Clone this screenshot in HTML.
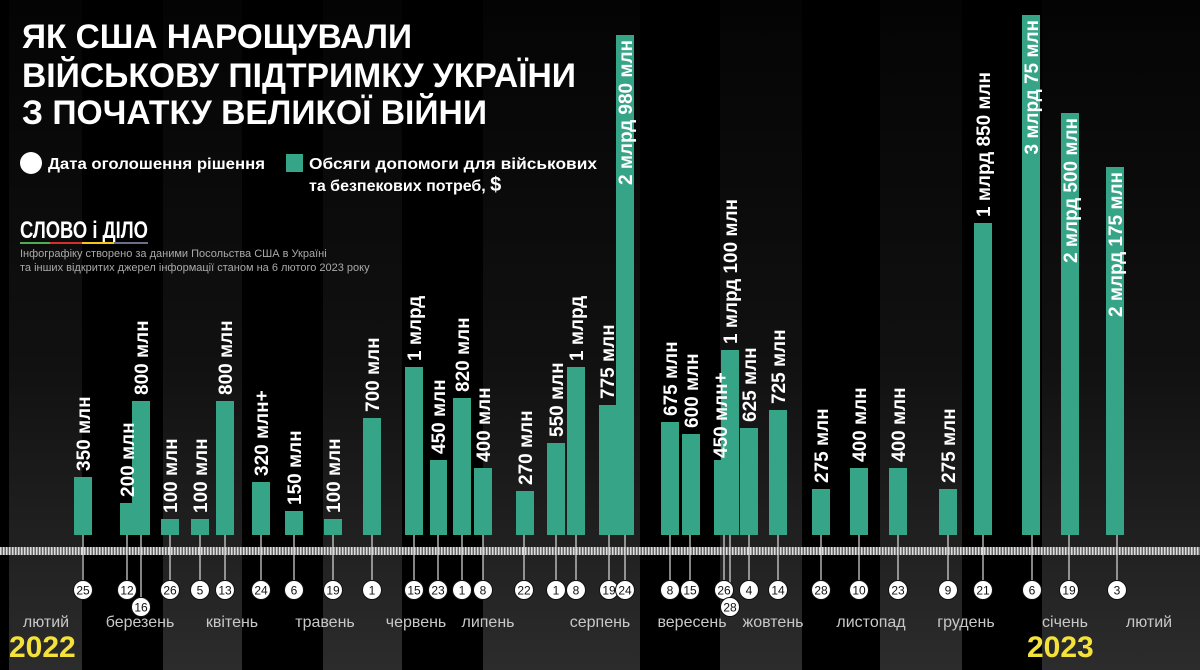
<!DOCTYPE html>
<html><head><meta charset="utf-8"><style>
html,body{margin:0;padding:0;background:#000;}
svg{display:block;}
text{font-family:"Liberation Sans","DejaVu Sans",sans-serif;}
</style></head><body>
<svg width="1200" height="670" viewBox="0 0 1200 670" xmlns="http://www.w3.org/2000/svg">
<defs>
<linearGradient id="g" x1="0" y1="0" x2="0" y2="1">
<stop offset="0" stop-color="#040404"/><stop offset="0.55" stop-color="#111"/><stop offset="1" stop-color="#2c2c2c"/>
</linearGradient>
<pattern id="tk" width="3" height="8" patternUnits="userSpaceOnUse">
<rect width="3" height="8" fill="#666"/><rect width="1.5" height="8" fill="#ddd"/>
</pattern>
</defs>
<rect width="1200" height="670" fill="#000"/>
<g fill="url(#g)">
<rect x="9" y="0" width="73" height="670"/>
<rect x="163" y="0" width="79" height="670"/>
<rect x="323" y="0" width="79" height="670"/>
<rect x="483" y="0" width="157" height="670"/>
<rect x="720" y="0" width="82" height="670"/>
<rect x="880" y="0" width="82" height="670"/>
<rect x="1042" y="0" width="158" height="670"/>
</g>
<rect x="0" y="547" width="1200" height="8" fill="url(#tk)"/>

<g fill="#fff" font-weight="bold">
<text x="22" y="48" font-size="34" textLength="390" lengthAdjust="spacingAndGlyphs">ЯК США НАРОЩУВАЛИ</text>
<text x="22" y="87" font-size="34" textLength="554" lengthAdjust="spacingAndGlyphs">ВІЙСЬКОВУ ПІДТРИМКУ УКРАЇНИ</text>
<text x="22" y="124" font-size="34" textLength="465" lengthAdjust="spacingAndGlyphs">З ПОЧАТКУ ВЕЛИКОЇ ВІЙНИ</text>
</g>
<circle cx="31" cy="163" r="11" fill="#fff"/>
<text x="48" y="169" font-size="16" font-weight="bold" fill="#fff" textLength="217" lengthAdjust="spacingAndGlyphs">Дата оголошення рішення</text>
<rect x="286" y="154" width="17" height="18" fill="#35a487"/>
<text x="309" y="169" font-size="16" font-weight="bold" fill="#fff" textLength="288" lengthAdjust="spacingAndGlyphs">Обсяги допомоги для військових</text>
<text x="309" y="191" font-size="16" font-weight="bold" fill="#fff">та безпекових потреб, <tspan font-size="20">$</tspan></text>
<text x="20" y="238" font-size="24" font-weight="bold" fill="#fff" textLength="128" lengthAdjust="spacingAndGlyphs">СЛОВО і ДІЛО</text>
<rect x="20" y="242" width="30" height="2" fill="#4caf50"/><rect x="50" y="242" width="32" height="2" fill="#d32f2f"/><rect x="82" y="242" width="32" height="2" fill="#f5c518"/><rect x="114" y="242" width="34" height="2" fill="#6b6f8a"/>
<text x="20" y="257" font-size="11" fill="#aaa">Інфографіку створено за даними Посольства США в Україні</text>
<text x="20" y="271" font-size="11" fill="#aaa">та інших відкритих джерел інформації станом на 6 лютого 2023 року</text>

<g fill="#35a487">
<rect x="74" y="477" width="18" height="58"/>
<rect x="120" y="503" width="14" height="32"/>
<rect x="132" y="401" width="18" height="134"/>
<rect x="161" y="519" width="18" height="16"/>
<rect x="191" y="519" width="18" height="16"/>
<rect x="216" y="401" width="18" height="134"/>
<rect x="252" y="482" width="18" height="53"/>
<rect x="285" y="511" width="18" height="24"/>
<rect x="324" y="519" width="18" height="16"/>
<rect x="363" y="418" width="18" height="117"/>
<rect x="405" y="367" width="18" height="168"/>
<rect x="430" y="460" width="17" height="75"/>
<rect x="453" y="398" width="18" height="137"/>
<rect x="474" y="468" width="18" height="67"/>
<rect x="516" y="491" width="18" height="44"/>
<rect x="547" y="443" width="18" height="92"/>
<rect x="567" y="367" width="18" height="168"/>
<rect x="599" y="405" width="17" height="130"/>
<rect x="616" y="35" width="18" height="500"/>
<rect x="661" y="422" width="18" height="113"/>
<rect x="682" y="434" width="18" height="101"/>
<rect x="714" y="460" width="9" height="75"/>
<rect x="721" y="350" width="18" height="185"/>
<rect x="740" y="428" width="18" height="107"/>
<rect x="769" y="410" width="18" height="125"/>
<rect x="812" y="489" width="18" height="46"/>
<rect x="850" y="468" width="18" height="67"/>
<rect x="889" y="468" width="18" height="67"/>
<rect x="939" y="489" width="18" height="46"/>
<rect x="974" y="223" width="18" height="312"/>
<rect x="1022" y="15" width="18" height="520"/>
<rect x="1061" y="113" width="18" height="422"/>
<rect x="1106" y="167" width="18" height="368"/>
</g>

<g fill="#fff" font-size="19" font-weight="bold">
<text transform="translate(90,471) rotate(-90)">350 млн</text>
<text transform="translate(134,497) rotate(-90)">200 млн</text>
<text transform="translate(148,395) rotate(-90)">800 млн</text>
<text transform="translate(177,513) rotate(-90)">100 млн</text>
<text transform="translate(207,513) rotate(-90)">100 млн</text>
<text transform="translate(232,395) rotate(-90)">800 млн</text>
<text transform="translate(268,476) rotate(-90)">320 млн+</text>
<text transform="translate(301,505) rotate(-90)">150 млн</text>
<text transform="translate(340,513) rotate(-90)">100 млн</text>
<text transform="translate(379,412) rotate(-90)">700 млн</text>
<text transform="translate(421,361) rotate(-90)">1 млрд</text>
<text transform="translate(445,454) rotate(-90)">450 млн</text>
<text transform="translate(469,392) rotate(-90)">820 млн</text>
<text transform="translate(490,462) rotate(-90)">400 млн</text>
<text transform="translate(532,485) rotate(-90)">270 млн</text>
<text transform="translate(563,437) rotate(-90)">550 млн</text>
<text transform="translate(583,361) rotate(-90)">1 млрд</text>
<text transform="translate(614,399) rotate(-90)">775 млн</text>
<text transform="translate(632,40) rotate(-90)" text-anchor="end">2 млрд 980 млн</text>
<text transform="translate(677,416) rotate(-90)">675 млн</text>
<text transform="translate(698,428) rotate(-90)">600 млн</text>
<text transform="translate(727,458) rotate(-90)">450 млн+</text>
<text transform="translate(737,344) rotate(-90)">1 млрд 100 млн</text>
<text transform="translate(756,422) rotate(-90)">625 млн</text>
<text transform="translate(785,404) rotate(-90)">725 млн</text>
<text transform="translate(828,483) rotate(-90)">275 млн</text>
<text transform="translate(866,462) rotate(-90)">400 млн</text>
<text transform="translate(905,462) rotate(-90)">400 млн</text>
<text transform="translate(955,483) rotate(-90)">275 млн</text>
<text transform="translate(990,217) rotate(-90)">1 млрд 850 млн</text>
<text transform="translate(1038,20) rotate(-90)" text-anchor="end">3 млрд 75 млн</text>
<text transform="translate(1077,118) rotate(-90)" text-anchor="end">2 млрд 500 млн</text>
<text transform="translate(1122,172) rotate(-90)" text-anchor="end">2 млрд 175 млн</text>
</g>

<g stroke="#ddd" stroke-width="1.2">
<line x1="83" y1="535" x2="83" y2="590"/><line x1="127" y1="535" x2="127" y2="590"/><line x1="141" y1="535" x2="141" y2="607"/>
<line x1="170" y1="535" x2="170" y2="590"/><line x1="200" y1="535" x2="200" y2="590"/><line x1="225" y1="535" x2="225" y2="590"/>
<line x1="261" y1="535" x2="261" y2="590"/><line x1="294" y1="535" x2="294" y2="590"/><line x1="333" y1="535" x2="333" y2="590"/>
<line x1="372" y1="535" x2="372" y2="590"/><line x1="414" y1="535" x2="414" y2="590"/><line x1="438" y1="535" x2="438" y2="590"/>
<line x1="462" y1="535" x2="462" y2="590"/><line x1="483" y1="535" x2="483" y2="590"/><line x1="524" y1="535" x2="524" y2="590"/>
<line x1="556" y1="535" x2="556" y2="590"/><line x1="576" y1="535" x2="576" y2="590"/><line x1="609" y1="535" x2="609" y2="590"/>
<line x1="625" y1="535" x2="625" y2="590"/><line x1="670" y1="535" x2="670" y2="590"/><line x1="690" y1="535" x2="690" y2="590"/>
<line x1="724" y1="535" x2="724" y2="590"/><line x1="730" y1="535" x2="730" y2="607"/><line x1="749" y1="535" x2="749" y2="590"/>
<line x1="778" y1="535" x2="778" y2="590"/><line x1="821" y1="535" x2="821" y2="590"/><line x1="859" y1="535" x2="859" y2="590"/>
<line x1="898" y1="535" x2="898" y2="590"/><line x1="948" y1="535" x2="948" y2="590"/><line x1="983" y1="535" x2="983" y2="590"/>
<line x1="1032" y1="535" x2="1032" y2="590"/><line x1="1069" y1="535" x2="1069" y2="590"/><line x1="1117" y1="535" x2="1117" y2="590"/>
</g>

<g fill="#fff" stroke="#111" stroke-width="1">
<circle cx="83" cy="590" r="9.5"/><circle cx="127" cy="590" r="9.5"/><circle cx="141" cy="607" r="9.5"/>
<circle cx="170" cy="590" r="9.5"/><circle cx="200" cy="590" r="9.5"/><circle cx="225" cy="590" r="9.5"/>
<circle cx="261" cy="590" r="9.5"/><circle cx="294" cy="590" r="9.5"/><circle cx="333" cy="590" r="9.5"/>
<circle cx="372" cy="590" r="9.5"/><circle cx="414" cy="590" r="9.5"/><circle cx="438" cy="590" r="9.5"/>
<circle cx="462" cy="590" r="9.5"/><circle cx="483" cy="590" r="9.5"/><circle cx="524" cy="590" r="9.5"/>
<circle cx="556" cy="590" r="9.5"/><circle cx="576" cy="590" r="9.5"/><circle cx="609" cy="590" r="9.5"/>
<circle cx="625" cy="590" r="9.5"/><circle cx="670" cy="590" r="9.5"/><circle cx="690" cy="590" r="9.5"/>
<circle cx="724" cy="590" r="9.5"/><circle cx="730" cy="607" r="9.5"/><circle cx="749" cy="590" r="9.5"/>
<circle cx="778" cy="590" r="9.5"/><circle cx="821" cy="590" r="9.5"/><circle cx="859" cy="590" r="9.5"/>
<circle cx="898" cy="590" r="9.5"/><circle cx="948" cy="590" r="9.5"/><circle cx="983" cy="590" r="9.5"/>
<circle cx="1032" cy="590" r="9.5"/><circle cx="1069" cy="590" r="9.5"/><circle cx="1117" cy="590" r="9.5"/>
</g>
<g fill="#111" font-size="12" text-anchor="middle">
<text x="83" y="594.5">25</text><text x="127" y="594.5">12</text><text x="141" y="611.5">16</text>
<text x="170" y="594.5">26</text><text x="200" y="594.5">5</text><text x="225" y="594.5">13</text>
<text x="261" y="594.5">24</text><text x="294" y="594.5">6</text><text x="333" y="594.5">19</text>
<text x="372" y="594.5">1</text><text x="414" y="594.5">15</text><text x="438" y="594.5">23</text>
<text x="462" y="594.5">1</text><text x="483" y="594.5">8</text><text x="524" y="594.5">22</text>
<text x="556" y="594.5">1</text><text x="576" y="594.5">8</text><text x="609" y="594.5">19</text>
<text x="625" y="594.5">24</text><text x="670" y="594.5">8</text><text x="690" y="594.5">15</text>
<text x="724" y="594.5">26</text><text x="730" y="611.5">28</text><text x="749" y="594.5">4</text>
<text x="778" y="594.5">14</text><text x="821" y="594.5">28</text><text x="859" y="594.5">10</text>
<text x="898" y="594.5">23</text><text x="948" y="594.5">9</text><text x="983" y="594.5">21</text>
<text x="1032" y="594.5">6</text><text x="1069" y="594.5">19</text><text x="1117" y="594.5">3</text>
</g>

<g fill="#c8c8c8" font-size="16" text-anchor="middle">
<text x="46" y="627">лютий</text><text x="140" y="627">березень</text><text x="232" y="627">квітень</text>
<text x="325" y="627">травень</text><text x="416" y="627">червень</text><text x="488" y="627">липень</text>
<text x="600" y="627">серпень</text><text x="692" y="627">вересень</text><text x="773" y="627">жовтень</text>
<text x="871" y="627">листопад</text><text x="966" y="627">грудень</text><text x="1065" y="627">січень</text>
<text x="1149" y="627">лютий</text>
</g>
<g fill="#f4e23a" font-size="30" font-weight="bold">
<text x="9" y="657">2022</text><text x="1027" y="657">2023</text>
</g>
</svg>
</body></html>
